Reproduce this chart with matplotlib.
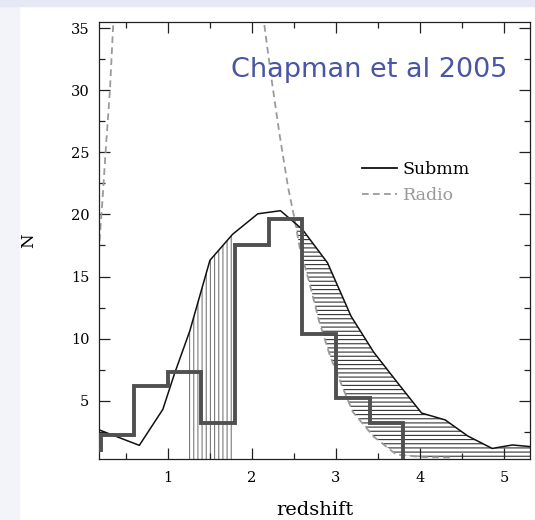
import numpy as np
import matplotlib
matplotlib.use('Agg')
import matplotlib.pyplot as plt
from matplotlib.lines import Line2D
from matplotlib.patches import Rectangle

# redshift histogram (bin edges, counts)
hist_edges = [-0.2, 0.2, 0.6, 1.0, 1.4, 1.8, 2.2, 2.6, 3.0, 3.4, 3.8]
hist_counts = [1.0, 2.2, 6.2, 7.3, 3.2, 17.5, 19.6, 10.4, 5.2, 3.2]

# submm selection curve
submm_z = [0.18, 0.66, 0.94, 1.08, 1.26, 1.50, 1.77, 2.07, 2.34, 2.60,
           2.90, 3.18, 3.45, 3.75, 4.02, 4.30, 4.57, 4.86, 5.10, 5.31]
submm_n = [2.65, 1.4, 4.3, 7.2, 10.6, 16.3, 18.4, 20.05, 20.3, 18.8,
           16.1, 11.8, 8.9, 6.3, 4.0, 3.45, 2.15, 1.15, 1.43, 1.3]

# radio selection curve, low-z and high-z branches
radio_lo_z = [0.365, 0.35, 0.31, 0.26, 0.22, 0.19, 0.17]
radio_lo_n = [37.0, 35.4, 30.0, 25.2, 21.0, 18.3, 16.0]
radio_hi_z = [2.10, 2.145, 2.24, 2.33, 2.43, 2.50, 2.57, 2.68, 2.80, 2.93,
              3.06, 3.20, 3.45, 3.72, 4.05, 4.40]
radio_hi_n = [37.0, 35.4, 30.6, 26.4, 22.2, 19.9, 17.3, 14.6, 11.4, 8.6,
              6.4, 4.1, 2.1, 0.65, 0.45, 0.42]

# redshift range hatched under the submm curve
vhatch_range = (1.25, 1.78)

plt.rcParams['hatch.linewidth'] = 0.8
serif = 'DejaVu Serif'
radio_dash = (3.7, 2.4)

fig = plt.figure(figsize=(5.35, 5.2), dpi=100)
fig.patches.append(Rectangle((0, 0), 19 / 535, 1, transform=fig.transFigure,
                             color='#f2f4fa', zorder=0))
fig.patches.append(Rectangle((0, 1 - 6 / 520), 1, 6 / 520, transform=fig.transFigure,
                             color='#e6e9f5', zorder=0))

ax = fig.add_axes([99 / 535, 61 / 520, 431 / 535, 437 / 520])

# hatched regions
zv = np.linspace(vhatch_range[0], vhatch_range[1], 100)
ax.fill_between(zv, 0, np.interp(zv, submm_z, submm_n), facecolor='none',
                edgecolor='#7a7a7a', hatch='||||', linewidth=0, zorder=1)

zh = np.linspace(2.3, 5.4, 600)
lower = np.interp(zh, radio_hi_z, radio_hi_n, right=0.0)
upper = np.interp(zh, submm_z, submm_n)
ax.fill_between(zh, lower, upper, where=upper >= lower, interpolate=True,
                facecolor='none', edgecolor='#333333', hatch='----',
                linewidth=0, zorder=1)

ax.plot(radio_lo_z, radio_lo_n, color='#9a9a9a', lw=1.3, dashes=radio_dash, zorder=2)
ax.plot(radio_hi_z, radio_hi_n, color='#9a9a9a', lw=1.3, dashes=radio_dash, zorder=2)
ax.plot(submm_z, submm_n, color='#111111', lw=1.1, zorder=3)
ax.stairs(hist_counts, hist_edges, baseline=0, color='#505050', lw=2.8, zorder=4)

ax.set_xlim(0.18, 5.31)
ax.set_ylim(0.3, 35.5)
ax.set_xticks([1, 2, 3, 4, 5])
ax.set_xticks(np.arange(0.5, 5.5, 0.5), minor=True)
ax.set_yticks([5, 10, 15, 20, 25, 30, 35])
ax.set_yticks(np.arange(2.5, 36, 2.5), minor=True)
ax.tick_params(which='both', direction='in', top=True, right=True,
               color='#222222', width=0.9)
ax.tick_params(which='major', length=8)
ax.tick_params(which='minor', length=4.5)
ax.tick_params(axis='x', pad=9)
ax.tick_params(axis='y', pad=7)
for lab in ax.get_xticklabels() + ax.get_yticklabels():
    lab.set_family(serif)
    lab.set_fontsize(10.5)
for s in ax.spines.values():
    s.set_color('#222222')
    s.set_linewidth(0.9)

ax.set_xlabel('redshift', family=serif, fontsize=14)
ax.xaxis.set_label_coords(0.5, -0.095)
ax.set_ylabel('N', family=serif, fontsize=12)
ax.yaxis.set_label_coords(-0.143, 0.5)

ax.text(0.947, 0.873, 'Chapman et al 2005', transform=ax.transAxes,
        ha='right', va='baseline', fontsize=19.5, color='#4a55a3',
        family='DejaVu Sans')

handles = [Line2D([], [], color='#111111', lw=1.3),
           Line2D([], [], color='#9a9a9a', lw=1.3, dashes=radio_dash)]
leg = ax.legend(handles, ['Submm', 'Radio'], loc='upper left',
                bbox_to_anchor=(0.61, 0.682), frameon=False, borderpad=0,
                borderaxespad=0, handlelength=2.0, handletextpad=0.35,
                labelspacing=0.5, prop={'family': serif, 'size': 12.5})
leg.get_texts()[1].set_color('#999999')

fig.savefig('out.png', dpi=100, facecolor='white')
